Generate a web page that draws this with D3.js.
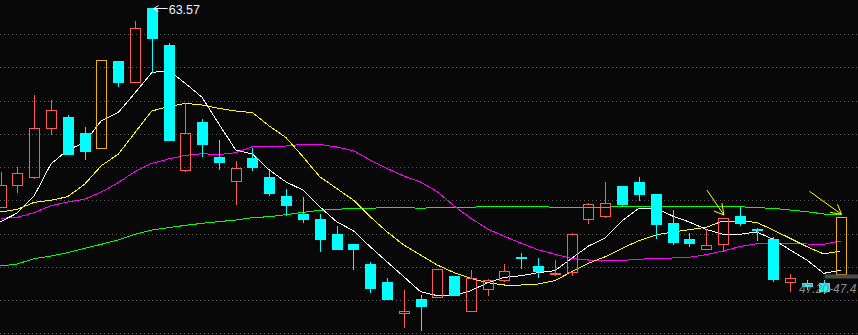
<!DOCTYPE html>
<html>
<head>
<meta charset="utf-8">
<script src="https://cdn.jsdelivr.net/npm/d3@7"></script>
<style>
  html, body { margin: 0; padding: 0; background: #080808; }
  svg { display: block; }
</style>
</head>
<body>
<svg id="chart" width="858" height="335"></svg>
<script>
// daily candles
const opens  = [51.66,52.96,53.44,56.38,57.06,56.10,55.16,60.42,59.14,63.57,61.38,53.84,56.76,54.66,53.18,54.60,53.46,52.32,51.24,50.94,50.04,49.44,48.24,47.16,45.26,46.14,46.22,47.52,45.38,46.72,47.26,48.64,48.10,47.70,47.74,50.92,51.08,52.92,53.16,52.44,50.70,49.74,49.12,49.41,51.12,50.31,49.74,47.14,47.10,47.07,47.61];
const highs  = [53.76,54.08,58.38,58.08,57.18,56.46,60.46,60.42,62.82,63.57,61.50,57.92,56.94,55.68,54.42,55.22,53.90,52.74,52.26,51.24,50.52,49.44,48.36,47.40,46.68,46.38,47.92,47.52,47.88,47.34,48.22,48.88,48.58,48.48,50.08,51.88,53.16,52.92,53.46,52.44,51.46,50.10,50.32,51.00,51.68,50.42,49.84,47.62,47.28,47.31,51.04];
const lows   = [51.66,52.48,53.34,56.00,54.80,54.50,55.16,58.88,59.14,59.72,55.62,53.78,54.68,53.90,51.80,53.84,52.34,51.14,50.72,48.98,49.10,47.90,46.52,46.10,44.42,44.24,46.22,46.34,45.38,46.34,47.18,47.96,47.42,47.52,47.54,50.66,51.02,51.72,52.04,49.76,49.40,49.28,49.06,48.96,50.54,49.64,47.18,46.58,46.68,46.44,47.61];
const closes = [52.98,53.68,56.38,57.46,54.86,55.04,60.46,59.18,62.38,61.76,55.70,56.08,55.46,54.36,53.98,54.08,52.52,51.80,50.96,49.76,49.14,49.16,46.82,46.16,45.40,45.74,47.92,46.38,47.38,47.26,47.80,48.62,47.78,47.73,50.02,51.82,51.88,51.86,52.46,50.66,49.58,49.52,49.36,50.98,50.72,50.28,47.36,47.38,46.92,46.56,51.04];

// moving averages as drawn
const ma5  = [50.78,51.30,52.32,54.24,55.08,55.52,56.84,57.32,58.50,59.72,59.86,59.08,58.24,56.64,55.08,54.84,53.88,53.16,52.68,51.68,50.78,50.24,49.28,48.38,47.48,46.58,46.34,46.34,46.64,47.12,47.44,47.54,47.72,47.84,48.58,49.32,49.80,50.84,51.58,51.60,51.12,50.76,50.32,50.02,50.02,50.16,49.72,49.08,48.48,47.68,47.86];
const ma10 = [51.36,51.52,51.94,52.06,52.28,53.02,54.14,54.82,56.12,57.42,57.68,57.88,57.78,57.58,57.42,57.32,56.52,55.82,54.68,53.48,52.78,52.08,51.08,50.18,49.38,48.78,48.18,47.72,47.38,47.12,46.98,46.98,47.04,47.24,47.78,48.28,48.68,49.18,49.64,49.98,50.16,50.30,50.44,50.82,50.82,50.74,50.28,49.78,49.28,48.84,49.02];
const ma20 = [50.98,51.04,51.32,51.74,51.96,52.12,52.56,53.12,53.78,54.28,54.54,54.76,54.86,54.80,54.92,55.28,55.32,55.32,55.42,55.42,55.26,55.04,54.48,53.98,53.52,53.16,52.58,51.72,50.98,50.34,49.90,49.48,49.10,48.83,48.58,48.48,48.48,48.46,48.52,48.58,48.60,48.64,48.80,49.02,49.28,49.46,49.46,49.46,49.44,49.42,49.62];
const ma60 = [48.12,48.24,48.56,48.72,48.92,49.18,49.42,49.68,50.02,50.28,50.42,50.56,50.68,50.78,50.88,51.02,51.08,51.20,51.34,51.46,51.52,51.58,51.58,51.64,51.64,51.58,51.64,51.64,51.64,51.70,51.70,51.70,51.70,51.64,51.64,51.64,51.64,51.70,51.70,51.70,51.70,51.70,51.70,51.68,51.68,51.62,51.58,51.48,51.38,51.24,51.24];

const markedDays = [6, 50];      // candles drawn in orange
const arrowDays  = [43, 50];     // yellow arrows point at these
const highLabel  = "63.57";
const lowLabel   = "47.20-47.4";

const W = 858, H = 335;
const BG = "#080808";
const UP = "#ff5a5a", DOWN = "#00ffff", MARK = "#f2b000";

const svg = d3.select("#chart");
svg.append("rect").attr("width", W).attr("height", H).attr("fill", BG);

const n = closes.length;
const x = d3.scaleLinear().domain([0, n - 1]).range([0.5, 840.5]);
const y = d3.scaleLinear().domain([43.98, 64.08]).range([H, 0]);

// dotted grid, ten even rows
const gridRow = d3.scaleLinear().domain([0, 9]).range([34, 333.3]);
svg.append("g").selectAll("line")
  .data(d3.range(10)).enter().append("line")
  .attr("x1", 0).attr("x2", W)
  .attr("y1", d => Math.round(gridRow(d)) + 0.5)
  .attr("y2", d => Math.round(gridRow(d)) + 0.5)
  .attr("stroke", "#5a5a5a")
  .attr("stroke-dasharray", "1,3");

// moving averages
const maLine = d3.line().x((d, i) => x(i)).y(d => y(d));
const maSets = [
  {vals: ma60, color: "#00ff00"},
  {vals: ma20, color: "#ff00ff"},
  {vals: ma10, color: "#ffff00"},
  {vals: ma5,  color: "#ffffff"}
];
svg.append("g").selectAll("path")
  .data(maSets).enter().append("path")
  .attr("d", d => maLine(d.vals))
  .attr("fill", "none")
  .attr("stroke", d => d.color)
  .attr("stroke-width", 1)
  .attr("shape-rendering", "crispEdges");

// candles
const bw = 10;
const candles = d3.range(n).map(i => ({
  i, o: opens[i], h: highs[i], l: lows[i], c: closes[i],
  up: closes[i] >= opens[i], mark: markedDays.includes(i)
}));
const colorOf = d => d.mark ? MARK : (d.up ? UP : DOWN);
const cx = d => Math.round(x(d.i)) + 0.5;

const cg = svg.append("g").attr("shape-rendering", "crispEdges");

// upper wick
cg.selectAll(".wickHi").data(candles).enter().append("line")
  .attr("x1", cx).attr("x2", cx)
  .attr("y1", d => y(d.h))
  .attr("y2", d => y(Math.max(d.o, d.c)))
  .attr("stroke", colorOf);

// lower wick
cg.selectAll(".wickLo").data(candles).enter().append("line")
  .attr("x1", cx).attr("x2", cx)
  .attr("y1", d => y(Math.min(d.o, d.c)))
  .attr("y2", d => y(d.l))
  .attr("stroke", colorOf);

// bodies: hollow for up days, filled for down days
cg.selectAll(".body").data(candles).enter().append("rect")
  .attr("x", d => Math.round(x(d.i)) - bw / 2 + 0.5)
  .attr("y", d => Math.round(y(Math.max(d.o, d.c))) + 0.5)
  .attr("width", bw)
  .attr("height", d => Math.max(1, Math.round(Math.abs(y(d.o) - y(d.c)))))
  .attr("fill", d => (d.up || d.mark) ? "none" : DOWN)
  .attr("stroke", colorOf)
  .attr("stroke-width", 1.2);

// price bar under the last candle
const last = candles[n - 1];
svg.append("rect")
  .attr("x", x(n - 2) + 1).attr("y", y(last.o))
  .attr("width", W - x(n - 2)).attr("height", 4)
  .attr("fill", "#4a4a4a");

// highest price label
const hiIdx = d3.maxIndex(highs);
const hx = x(hiIdx) + 2, hy = Math.round(y(highs[hiIdx])) + 0.5;
const lab = svg.append("g").attr("stroke", "#e8f2ff").attr("fill", "none");
lab.append("line").attr("x1", hx).attr("x2", hx + 14).attr("y1", hy).attr("y2", hy);
lab.append("path").attr("d", `M${hx + 5},${hy - 3}L${hx},${hy}L${hx + 5},${hy + 3}`);
svg.append("text")
  .attr("x", hx + 15).attr("y", hy + 5)
  .attr("fill", "#e8f2ff")
  .attr("font-family", "Liberation Sans, Arial, sans-serif")
  .attr("font-size", 12.5)
  .text(highLabel);

// low label at the right edge
svg.append("text")
  .attr("x", 799).attr("y", 293)
  .attr("fill", "#8a8a8a")
  .attr("font-family", "Liberation Sans, Arial, sans-serif")
  .attr("font-style", "italic")
  .attr("font-size", 12)
  .text(lowLabel);

// yellow arrows
const arrowShape = [
  {from: [-17, -25], barbs: [[-10, -4], [-2, -12]]},
  {from: [-32, -23], barbs: [[-11.5, -2], [-4, -10]]}
];
arrowDays.forEach((day, k) => {
  const tx = x(day) + 1, ty = y(highs[day]) - 3;
  const a = arrowShape[k];
  svg.append("path")
    .attr("d", `M${tx + a.from[0]},${ty + a.from[1]}L${tx},${ty}` +
               `M${tx + a.barbs[0][0]},${ty + a.barbs[0][1]}L${tx},${ty}` +
               `L${tx + a.barbs[1][0]},${ty + a.barbs[1][1]}`)
    .attr("fill", "none")
    .attr("stroke", "#ffff00")
    .attr("stroke-width", 1);
});
</script>
</body>
</html>
